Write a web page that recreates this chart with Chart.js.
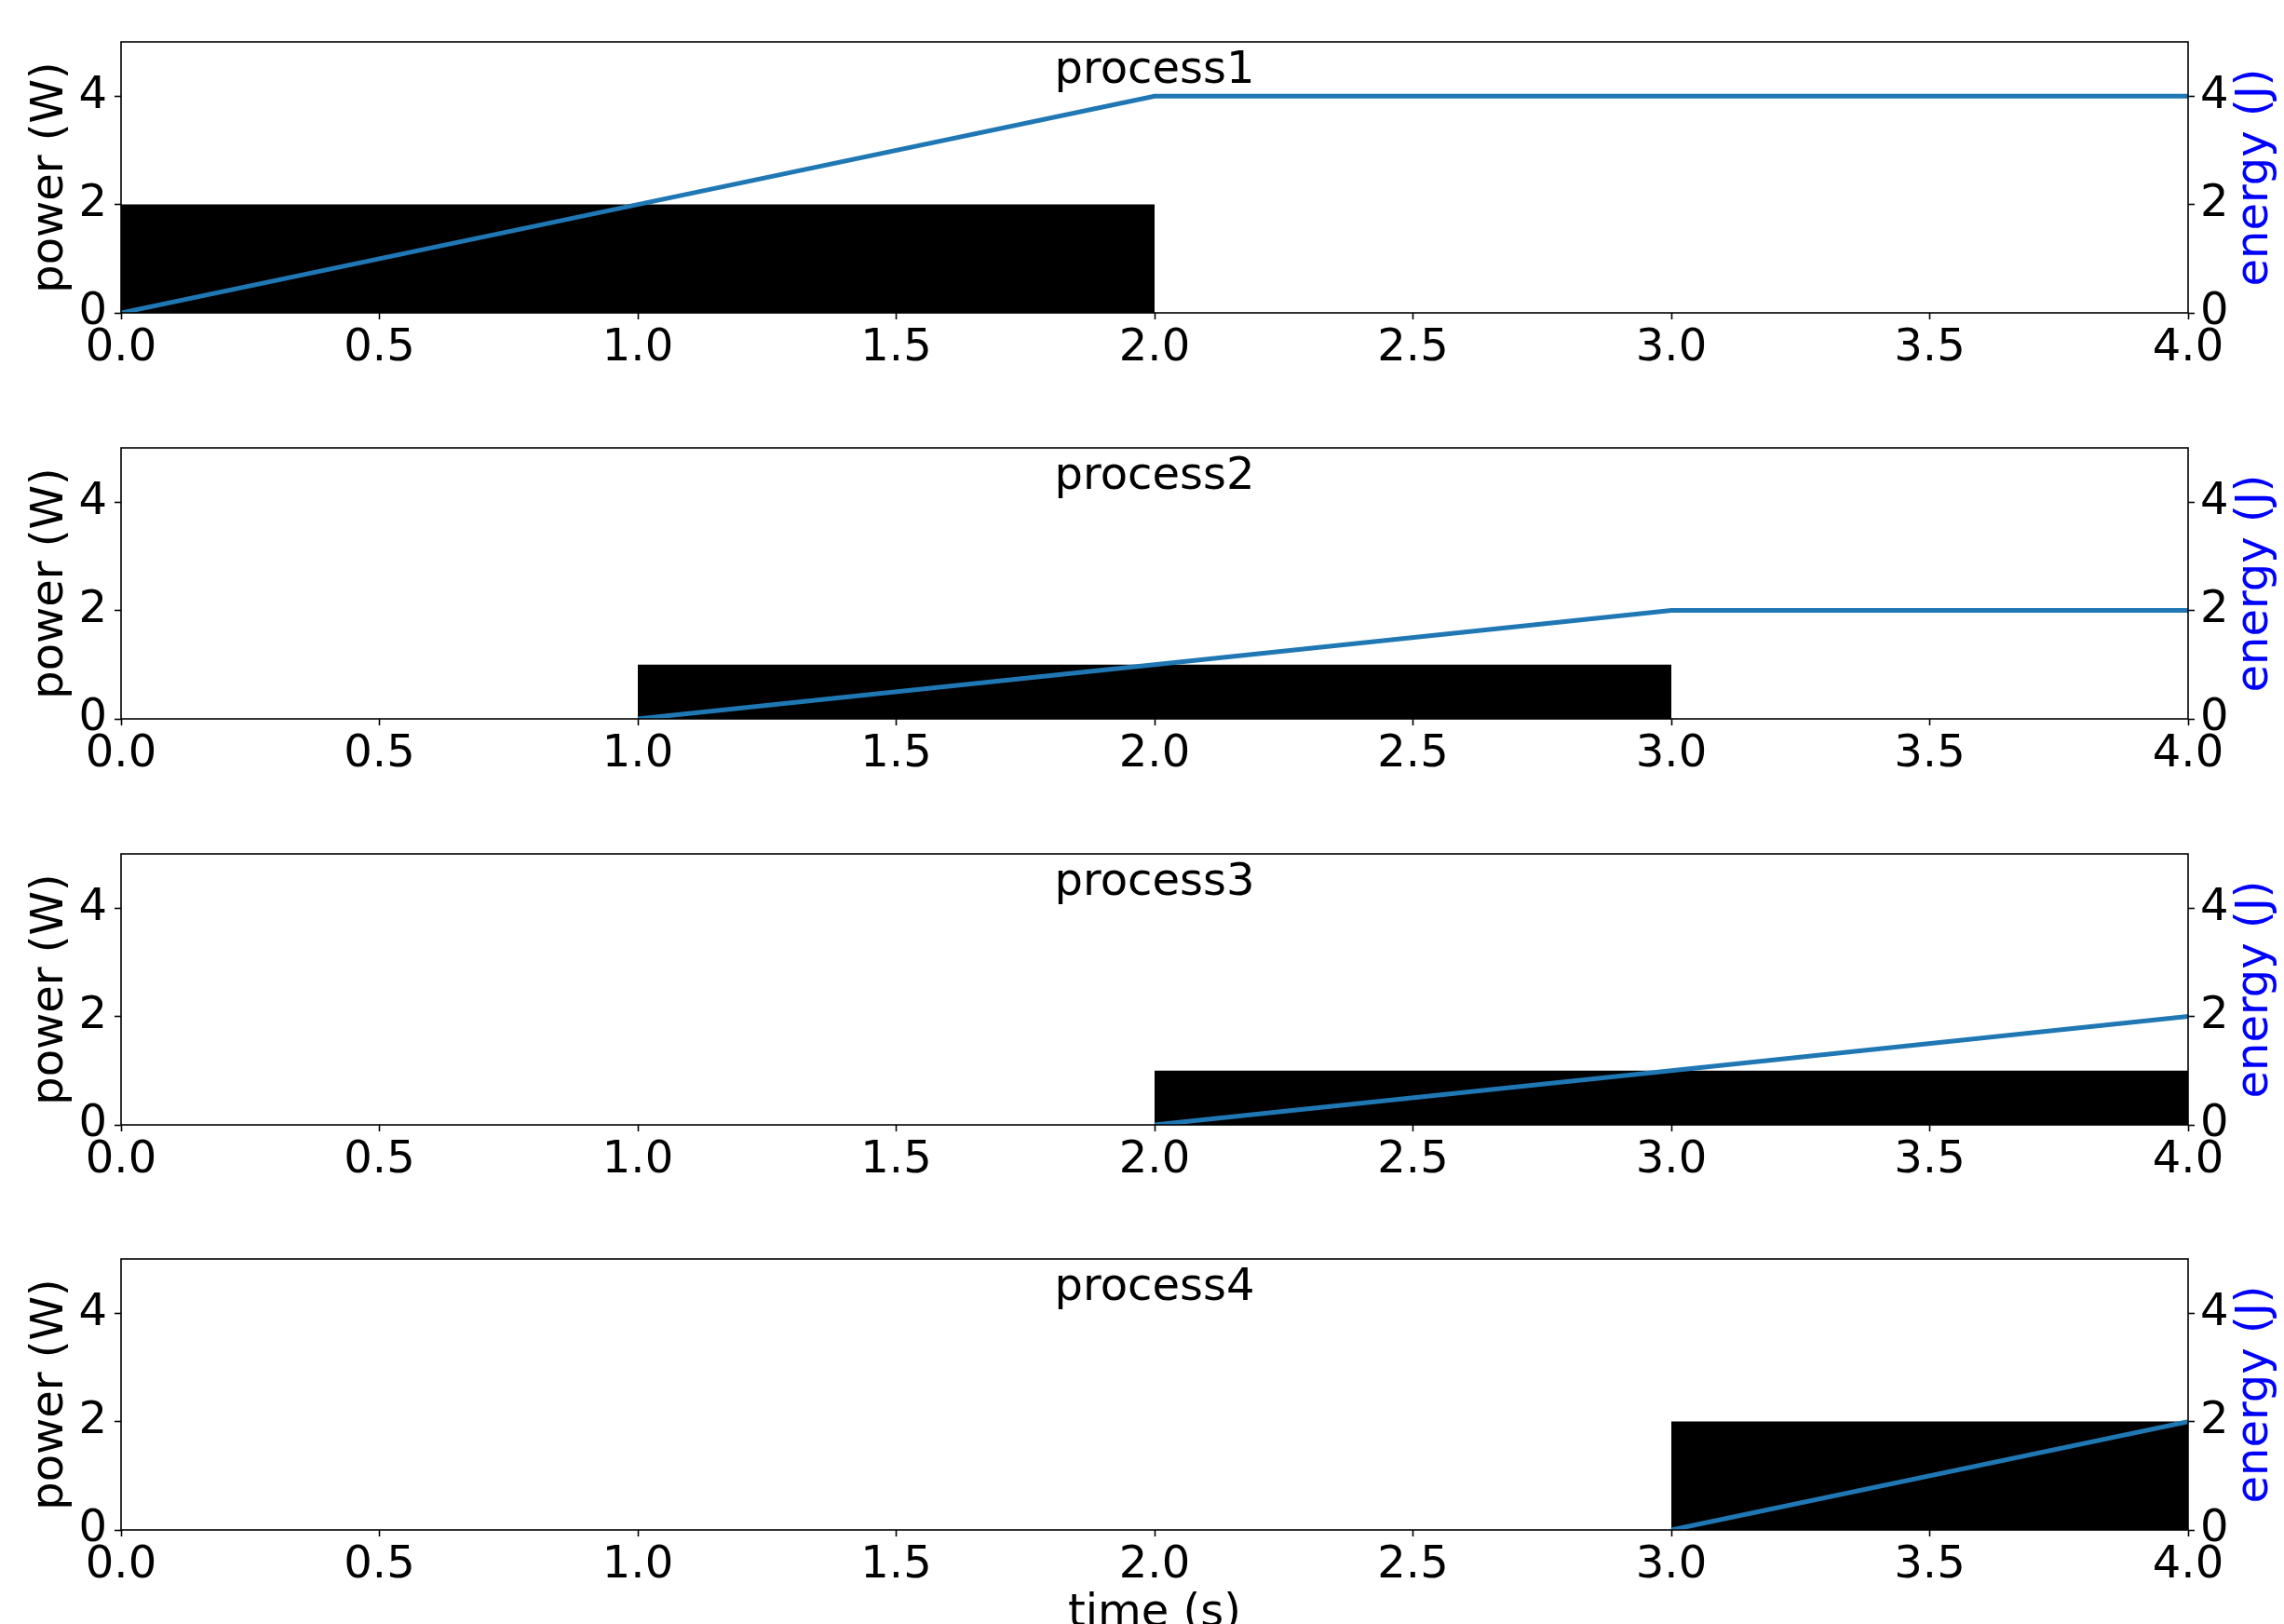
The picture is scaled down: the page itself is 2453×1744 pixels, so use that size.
<!DOCTYPE html>
<html>
<head>
<meta charset="utf-8">
<script src="https://cdn.jsdelivr.net/npm/chart.js@4.4.1/dist/chart.umd.min.js"></script>
<style>
    html, body { margin: 0; padding: 0; background: #fff; overflow: hidden; }
    #wrap { position: relative; width: 2453px; height: 1744px; overflow: hidden; background: #fff; }
    #wrap canvas { position: absolute; left: 0; }
</style>
</head>
<body>
<div id="wrap"></div>
<script>
// Panel names
const processNames = ['process1', 'process2', 'process3', 'process4'];

// Power blocks: start time, end time, power level (W)
const powerStart = [0, 1, 2, 3];
const powerEnd = [2, 3, 4, 4];
const powerLevel = [2, 1, 1, 2];

// Cumulative energy (J) per process
const energyTime1 = [0, 1, 2, 3, 4];
const energy1 = [0, 2, 4, 4, 4];
const energyTime2 = [1, 2, 3, 4];
const energy2 = [0, 1, 2, 2];
const energyTime3 = [2, 3, 4];
const energy3 = [0, 1, 2];
const energyTime4 = [3, 4];
const energy4 = [0, 2];

// Tick values shown on the two y axes
const yTickValues = [0, 2, 4];

const energyTimes = [energyTime1, energyTime2, energyTime3, energyTime4];
const energies = [energy1, energy2, energy3, energy4];

const FONT = 'DejaVu Sans';
const W = 2453;
const panelTops = [0, 436, 872, 1307]; // canvas tops on the page

// Draws the frame, the title inside the axes and the right axis label
const panelDecor = {
    id: 'panelDecor',
    afterDatasetsDraw(chart, args, opts) {
        const { ctx, chartArea: a } = chart;
        ctx.save();
        ctx.strokeStyle = '#000';
        ctx.lineWidth = 1.6;
        ctx.strokeRect(a.left, a.top, a.right - a.left, a.bottom - a.top);

        ctx.fillStyle = '#000';
        ctx.font = '48px "' + FONT + '"';
        ctx.textAlign = 'center';
        ctx.textBaseline = 'alphabetic';
        ctx.fillText(opts.title, (a.left + a.right) / 2, a.top + 44);

        ctx.translate(2423, (a.top + a.bottom) / 2);
        ctx.rotate(-Math.PI / 2);
        ctx.fillStyle = '#0000ff';
        ctx.textBaseline = 'middle';
        ctx.fillText('energy (J)', 0, 0);
        ctx.restore();
    }
};

function fixedTicks(scale) {
    scale.ticks = yTickValues.map(v => ({ value: v }));
}

function makePanel(i) {
    const last = i === processNames.length - 1;
    const h = last ? 500 : 436;
    const canvas = document.createElement('canvas');
    canvas.width = W;
    canvas.height = h;
    canvas.style.top = panelTops[i] + 'px';
    canvas.style.width = W + 'px';
    canvas.style.height = h + 'px';
    document.getElementById('wrap').appendChild(canvas);

    const energyData = energyTimes[i].map((t, k) => ({ x: t, y: energies[i][k] }));
    const powerData = [
        { x: powerStart[i], y: powerLevel[i] },
        { x: powerEnd[i], y: powerLevel[i] }
    ];

    const tickFont = { family: FONT, size: 48, lineHeight: 1 };
    const tickGrid = { drawOnChartArea: false, drawTicks: true, tickLength: 7, tickColor: '#000', tickWidth: 1.6 };

    new Chart(canvas.getContext('2d'), {
        type: 'line',
        data: {
            datasets: [{
                label: 'energy',
                data: energyData,
                yAxisID: 'y2',
                borderColor: '#1f77b4',
                borderWidth: 5,
                pointRadius: 0,
                fill: false,
                tension: 0,
                order: 0
            }, {
                label: 'power',
                data: powerData,
                yAxisID: 'y',
                borderWidth: 0,
                borderColor: 'rgba(0,0,0,0)',
                backgroundColor: '#000',
                pointRadius: 0,
                fill: 'origin',
                tension: 0,
                order: 1
            }]
        },
        options: {
            responsive: false,
            animation: false,
            devicePixelRatio: 1,
            layout: { padding: { top: 45, left: 0, right: 0, bottom: 0 } },
            plugins: {
                legend: { display: false },
                tooltip: { enabled: false },
                panelDecor: { title: processNames[i] }
            },
            scales: {
                x: {
                    type: 'linear',
                    min: 0,
                    max: 4,
                    border: { display: false },
                    grid: tickGrid,
                    ticks: {
                        stepSize: 0.5,
                        autoSkip: false,
                        maxRotation: 0,
                        padding: 8,
                        color: '#000',
                        font: tickFont,
                        callback: v => v.toFixed(1)
                    },
                    title: {
                        display: last,
                        text: 'time (s)',
                        color: '#000',
                        font: { family: FONT, size: 48, lineHeight: 1.2 },
                        padding: { top: 0, bottom: 45 }
                    },
                    afterFit(scale) { scale.height = h - 336; }
                },
                y: {
                    position: 'left',
                    min: 0,
                    max: 5,
                    border: { display: false },
                    grid: tickGrid,
                    ticks: { padding: 8, color: '#000', font: tickFont },
                    afterBuildTicks: fixedTicks,
                    title: {
                        display: true,
                        text: 'power (W)',
                        color: '#000',
                        font: { family: FONT, size: 48, lineHeight: 1.2 },
                        padding: { top: 26, bottom: 0 }
                    },
                    afterFit(scale) { scale.width = 130; }
                },
                y2: {
                    position: 'right',
                    min: 0,
                    max: 5,
                    border: { display: false },
                    grid: tickGrid,
                    ticks: { padding: 6, color: '#000', font: tickFont },
                    afterBuildTicks: fixedTicks,
                    afterFit(scale) { scale.width = W - 2350; }
                }
            }
        },
        plugins: [panelDecor]
    });
}

processNames.forEach((name, i) => makePanel(i));
</script>
</body>
</html>
